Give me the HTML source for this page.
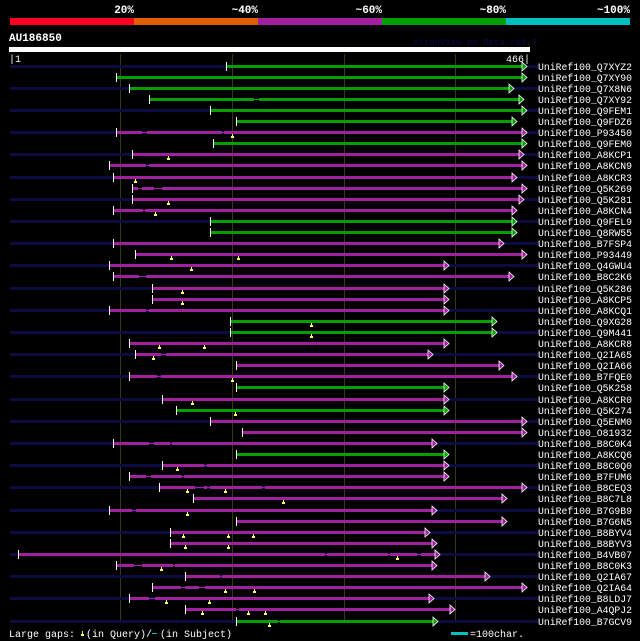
<!DOCTYPE html>
<html><head><meta charset="utf-8">
<style>
html,body{margin:0;padding:0;background:#000;}
svg{display:block;}
text{font-family:"Liberation Mono",monospace;}
</style></head>
<body>
<svg id="chart" width="640" height="641" viewBox="0 0 640 641" xmlns="http://www.w3.org/2000/svg" shape-rendering="crispEdges">
<rect x="0" y="0" width="640" height="641" fill="#000"/>
<g>
<rect x="10" y="18" width="124" height="7" fill="#ff0020"/>
<rect x="134" y="18" width="124" height="7" fill="#e06000"/>
<rect x="258" y="18" width="124" height="7" fill="#a020a0"/>
<rect x="382" y="18" width="124" height="7" fill="#00a000"/>
<rect x="506" y="18" width="124" height="7" fill="#00c0c0"/>
<text x="134" y="13" fill="#fff" font-size="11" font-weight="bold" text-anchor="end">20%</text>
<text x="258" y="13" fill="#fff" font-size="11" font-weight="bold" text-anchor="end">~40%</text>
<text x="382" y="13" fill="#fff" font-size="11" font-weight="bold" text-anchor="end">~60%</text>
<text x="506" y="13" fill="#fff" font-size="11" font-weight="bold" text-anchor="end">~80%</text>
<text x="630" y="13" fill="#fff" font-size="11" font-weight="bold" text-anchor="end">~100%</text>
</g>
<text x="9" y="41" fill="#fff" font-size="11" font-weight="bold">AU186850</text>
<text x="413" y="45" fill="#0a0a50" font-size="9">AlignView.pm Beta rel.7</text>
<rect x="9" y="47" width="521" height="5" fill="#fff"/>
<text x="9" y="62" fill="#fff" font-size="10">|1</text>
<text x="530" y="62" fill="#fff" font-size="10" text-anchor="end">466|</text>
<g id="grid"></g>
<g id="rows"></g>
<g>
<text x="9" y="637" fill="#fff" font-size="10">Large gaps:</text>
<rect x="82" y="631" width="1" height="3" fill="#ffff60"/>
<rect x="81" y="634" width="3" height="2" fill="#ffff60"/>
<text x="86" y="637" fill="#fff" font-size="10">(in Query)/</text>
<rect x="152" y="633" width="5" height="1" fill="#00c0c0"/>
<text x="160" y="637" fill="#fff" font-size="10">(in Subject)</text>
<rect x="451" y="632" width="17" height="3" fill="#00c0c0"/>
<text x="470" y="637" fill="#fff" font-size="10">=100char.</text>
</g>
</svg>
<script>
const names = ["Q7XYZ2","Q7XY90","Q7X8N6","Q7XY92","Q9FEM1","Q9FDZ6","P93450","Q9FEM0","A8KCP1","A8KCN9","A8KCR3","Q5K269","Q5K281","A8KCN4","Q9FEL9","Q8RW55","B7FSP4","P93449","Q4GWU4","B8C2K6","Q5K286","A8KCP5","A8KCQ1","Q9XG28","Q9M441","A8KCR8","Q2IA65","Q2IA66","B7FQE0","Q5K258","A8KCR0","Q5K274","Q5ENM0","O81932","B8C0K4","A8KCQ6","B8C0Q0","B7FUM6","B8CEQ3","B8C7L8","B7G9B9","B7G6N5","B8BYV4","B8BYV3","B4VB07","B8C0K3","Q2IA67","Q2IA64","B8LDJ7","A4QPJ2","B7GCV9"];
const starts = [195,96,108,126,180,204,96,183,110,90,93,110,110,93,180,180,93,113,90,93,128,128,90,198,198,108,113,204,108,204,137,150,180,209,93,204,137,108,135,165,90,204,144,144,8,96,158,128,108,158,204];
const ends = [460,460,448,457,460,451,460,460,457,460,451,460,457,451,451,451,439,460,390,448,390,390,390,433,433,390,376,439,451,390,390,390,460,460,379,390,390,390,460,442,379,442,373,379,382,379,427,460,377,395,380];
const colors = ["g","g","g","g","g","g","p","g","p","p","p","p","p","p","g","g","p","p","p","p","p","p","p","g","g","p","p","p","p","g","p","g","p","p","p","g","p","p","p","p","p","p","p","p","p","p","p","p","p","p","g"];
const gaps = [[],[],[],[[220,224]],[],[],[[119,124],[191,193]],[],[],[[123,126]],[],[[116,119],[130,137]],[],[[120,122]],[],[],
[],[],[],[[117,123]],[],[],[[123,126]],[],[],[],[[136,141]],[],[[133,136]],[],[],[],
[],[],[[126,130],[144,146]],[],[[175,178]],[[123,127],[155,157]],[[167,175],[178,180],[227,230]],[],[[110,114]],[],[],[],[[283,285],[340,342],[366,369]],[[112,119],[147,149]],[[189,191]],[[154,158],[170,176]],[[126,131]],[[204,206]],[[241,243]]];
const markers = [[],[],[],[],[],[],[200],[],[143],[],[113],[],[143],[131],[],[],
[],[145,205],[163],[],[155],[155],[],[271],[271],[135,175],[129],[],[200],[],[164],[203],
[],[],[],[],[151],[],[160,194],[246],[160],[],[156,196,219],[158,196],[348],[136],[],[194,220],[141,179],[173,214,230],[233]];
const gridTicks = [100,200,300,400];

const svgNS = "http://www.w3.org/2000/svg";
const xs = p => Math.round(10 + (p - 1) * 1.1155);
const ys = i => Math.round(65.5 + i * 11.1);
const col = c => c === "g" ? "#00a000" : "#a020a0";
function mk(tag, attrs, parent){const e=document.createElementNS(svgNS,tag);for(const k in attrs)e.setAttribute(k,String(attrs[k]));parent.appendChild(e);return e;}

const grid = document.getElementById("grid");
gridTicks.forEach(t=>{
  const l = mk("rect",{x:xs(t),y:54,width:1,height:568,fill:"#3a3a10"},grid);
  
  
});
const rows = document.getElementById("rows");
for (let i = 0; i < names.length; i++) {
  const y = ys(i);
  const g = mk("g",{},rows);
  
  
  if(i%2===0){
    const s = mk("rect",{x:10,y:y-1,width:528,height:3,fill:"#0c0c40"},g);
    
    
  }
  const c = col(colors[i]);
  const x0 = xs(starts[i]), x1 = xs(ends[i]);
  const thin = mk("rect",{x:x0,y:y,width:x1-x0,height:1,fill:c},g);
  
  
  // thick intervals = [start,end] minus gaps
  const bounds = [starts[i]];
  const gp = gaps[i].slice().sort((p,q)=>p[0]-q[0]);
  for (let k = 0; k < gp.length; k++) { bounds.push(gp[k][0]); bounds.push(gp[k][1]); }
  bounds.push(ends[i]);
  for (let k = 0; k + 1 < bounds.length; k += 2) {
    const sa = xs(bounds[k]), sb = xs(bounds[k+1]);
    const seg = mk("rect",{x:sa,y:y-1,width:Math.max(0,sb-sa),height:3,fill:c},g);
    
    
  }
  const st = mk("rect",{x:x0,y:y-4,width:1,height:9,fill:"#fff"},g);
  
  
  const ar = mk("path",{d:`M${x1},${y-4} L${x1+5},${y+0.5} L${x1},${y+5} Z`,fill:c,stroke:"#fff","stroke-width":0.8,"shape-rendering":"auto"},g);
  
  
  for (let k = 0; k < markers[i].length; k++) {
    const mx = xs(markers[i][k]);
    const ma = mk("rect",{x:mx,y:y+2,width:1,height:2,fill:"#ffff60"},g);
    
    
    const mb = mk("rect",{x:mx-1,y:y+4,width:3,height:2,fill:"#ffff60"},g);
    
    
  }
  const t = mk("text",{x:538,y:y+4,fill:"#fff","font-size":"9.8"},g);
  t.textContent = "UniRef100_" + names[i];
  
  
}
</script>
</body></html>
